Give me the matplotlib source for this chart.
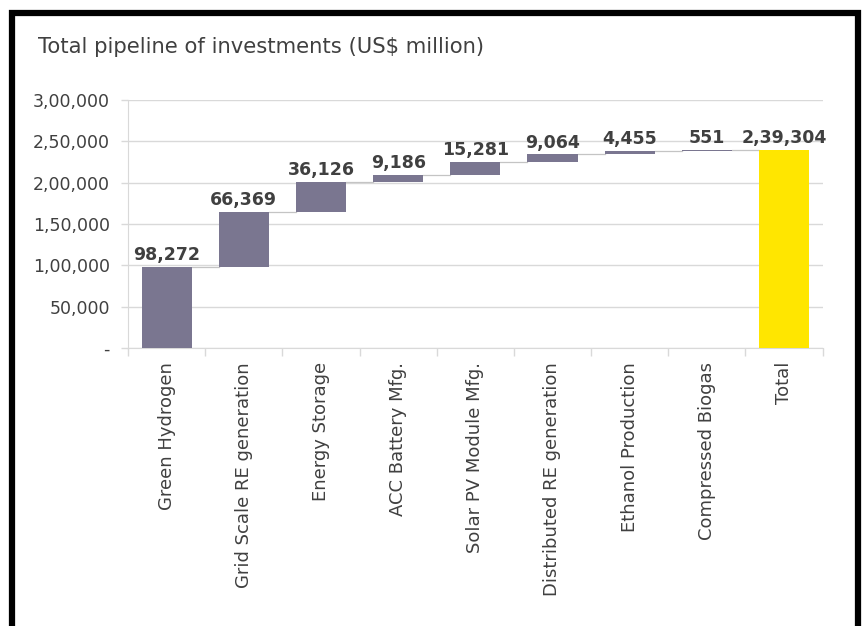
import numpy as np
import matplotlib
matplotlib.use("Agg")
import matplotlib.pyplot as plt
from matplotlib.patches import Rectangle

# data
categories = ["Green Hydrogen", "Grid Scale RE generation", "Energy Storage",
              "ACC Battery Mfg.", "Solar PV Module Mfg.", "Distributed RE generation",
              "Ethanol Production", "Compressed Biogas", "Total"]
increments = [98272, 66369, 36126, 9186, 15281, 9064, 4455, 551]
total = 239304
value_labels = ["98,272", "66,369", "36,126", "9,186", "15,281", "9,064", "4,455", "551", "2,39,304"]
y_ticks = [0, 50000, 100000, 150000, 200000, 250000, 300000]
y_tick_labels = ["-", "50,000", "1,00,000", "1,50,000", "2,00,000", "2,50,000", "3,00,000"]

bar_color = "#7A7690"
total_color = "#FFE600"
text_color = "#404040"
grid_color = "#D9D9D9"

fig = plt.figure(figsize=(8.65, 6.26), dpi=100)
ax = fig.add_axes([0.148, 0.444, 0.803, 0.396])

x = np.arange(len(categories))
bottoms = np.concatenate([[0], np.cumsum(increments)[:-1]])
tops = bottoms + np.array(increments)
width = 0.65

ax.bar(x[:-1], increments, bottom=bottoms, width=width, color=bar_color, zorder=3)
ax.bar(x[-1], total, width=width, color=total_color, zorder=3)

# thin connector lines between steps
for i, lv in enumerate(tops):
    ax.plot([x[i] + width / 2, x[i + 1] - width / 2], [lv, lv],
            color="#C4C4C4", lw=0.9, zorder=2)

# value labels
label_tops = list(tops) + [total]
for i, (t, lab) in enumerate(zip(label_tops, value_labels)):
    ax.text(x[i], t + 3500, lab, ha="center", va="bottom", fontsize=12.5,
            fontweight="bold", color=text_color, zorder=4)

ax.set_xlim(-0.5, len(categories) - 0.5)
ax.set_ylim(0, 300000)
ax.set_yticks(y_ticks)
ax.set_yticklabels(y_tick_labels, fontsize=12.5, color=text_color)
ax.set_xticks(x)
ax.set_xticklabels(categories, rotation=90, fontsize=13, color=text_color)
ax.tick_params(axis="x", length=0, pad=10)
ax.set_xticks(np.arange(-0.5, len(categories)), minor=True)
ax.tick_params(axis="x", which="minor", length=6, color=grid_color, width=1)
ax.tick_params(axis="y", length=5, color=grid_color, width=1, pad=8)

ax.grid(axis="y", color=grid_color, lw=1, zorder=0)
for s in ["top", "right"]:
    ax.spines[s].set_visible(False)
ax.spines["left"].set_color(grid_color)
ax.spines["bottom"].set_color(grid_color)

fig.text(0.044, 0.925, "Total pipeline of investments (US$ million)",
         fontsize=15.2, color=text_color, family="DejaVu Sans",
         va="center", ha="left")

# black frame around the picture
fig.patches.append(Rectangle((0.014, -0.02), 0.978, 1.0, transform=fig.transFigure,
                             fill=False, edgecolor="black", lw=4.5))

fig.savefig("out.png", dpi=100)
